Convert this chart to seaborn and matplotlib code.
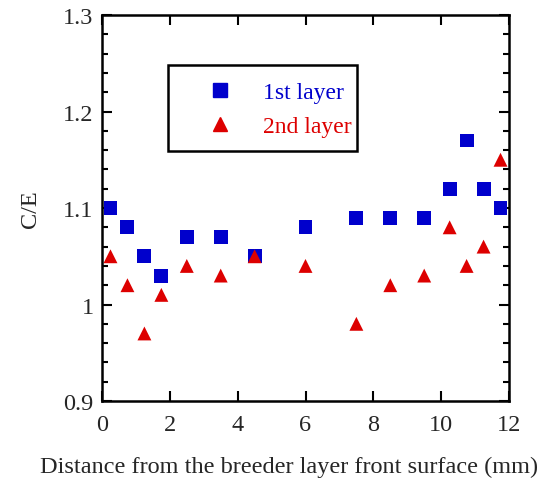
import numpy as np
import pandas as pd
import seaborn as sns
import matplotlib.pyplot as plt
from matplotlib.ticker import MultipleLocator
from matplotlib.patches import Rectangle

# data
x_pos = [0.25, 0.75, 1.25, 1.75, 2.5, 3.5, 4.5, 6, 7.5, 8.5, 9.5, 10.25, 10.75, 11.25, 11.75]
layer1 = [1.10, 1.08, 1.05, 1.03, 1.07, 1.07, 1.05, 1.08, 1.09, 1.09, 1.09, 1.12, 1.17, 1.12, 1.10]
layer2 = [1.05, 1.02, 0.97, 1.01, 1.04, 1.03, 1.05, 1.04, 0.98, 1.02, 1.03, 1.08, 1.04, 1.06, 1.15]
series = ['1st layer', '2nd layer']
colors = {'1st layer': '#0000cc', '2nd layer': '#dd0000'}
marks = {'1st layer': 's', '2nd layer': '^'}

df = pd.DataFrame({
    'x': x_pos * 2,
    'ce': layer1 + layer2,
    'layer': [series[0]] * len(x_pos) + [series[1]] * len(x_pos),
})

sns.set_style('ticks')
plt.rcParams['font.family'] = ['Liberation Serif', 'DejaVu Serif']

fig = plt.figure(figsize=(5.38, 4.81), dpi=100)
ax = fig.add_axes([0.1896, 0.1642, 0.7565, 0.8025])

sns.scatterplot(data=df, x='x', y='ce', hue='layer', style='layer',
                palette=colors, markers=marks, s=100, edgecolor='none',
                ax=ax, legend=False)

ax.set_xlim(0, 12)
ax.set_ylim(0.9, 1.3)
ax.xaxis.set_major_locator(MultipleLocator(2))
ax.yaxis.set_minor_locator(MultipleLocator(0.02))
ax.set_yticks([0.9, 1.0, 1.1, 1.2, 1.3])
ax.set_yticklabels(['0.9', '1', '1.1', '1.2', '1.3'])
ax.tick_params(which='both', direction='in', top=True, right=True, labelsize=17.5, width=1.5, color='black')
ax.tick_params(which='major', length=7)
ax.tick_params(which='minor', length=4)
ax.tick_params(axis='x', pad=9)
ax.tick_params(axis='y', pad=6)
for sp in ax.spines.values():
    sp.set_linewidth(1.8)
    sp.set_color('black')

ax.set_xlabel('Distance from the breeder layer front surface (mm)', fontsize=17.5)
ax.xaxis.set_label_coords(0.4607, -0.142)
ax.set_ylabel('C/E', fontsize=17.5, labelpad=16)

# legend box drawn by hand (text sits close to the right edge)
ax.add_patch(Rectangle((0.162, 0.6477), 0.4645, 0.2228, transform=ax.transAxes,
                       fill=False, edgecolor='black', linewidth=1.8, zorder=5))
handles = [plt.Line2D([], [], linestyle='none', marker=marks[k], color=colors[k], markersize=9.5)
           for k in series]
leg = ax.legend(handles, series, loc='center left', bbox_to_anchor=(0.2604, 0.755),
                fontsize=17, frameon=False, borderpad=0, borderaxespad=0,
                handlelength=1.0, handletextpad=1.32, labelspacing=0.53)
for t, k in zip(leg.get_texts(), series):
    t.set_color(colors[k])

fig.savefig('out.png', dpi=100)
